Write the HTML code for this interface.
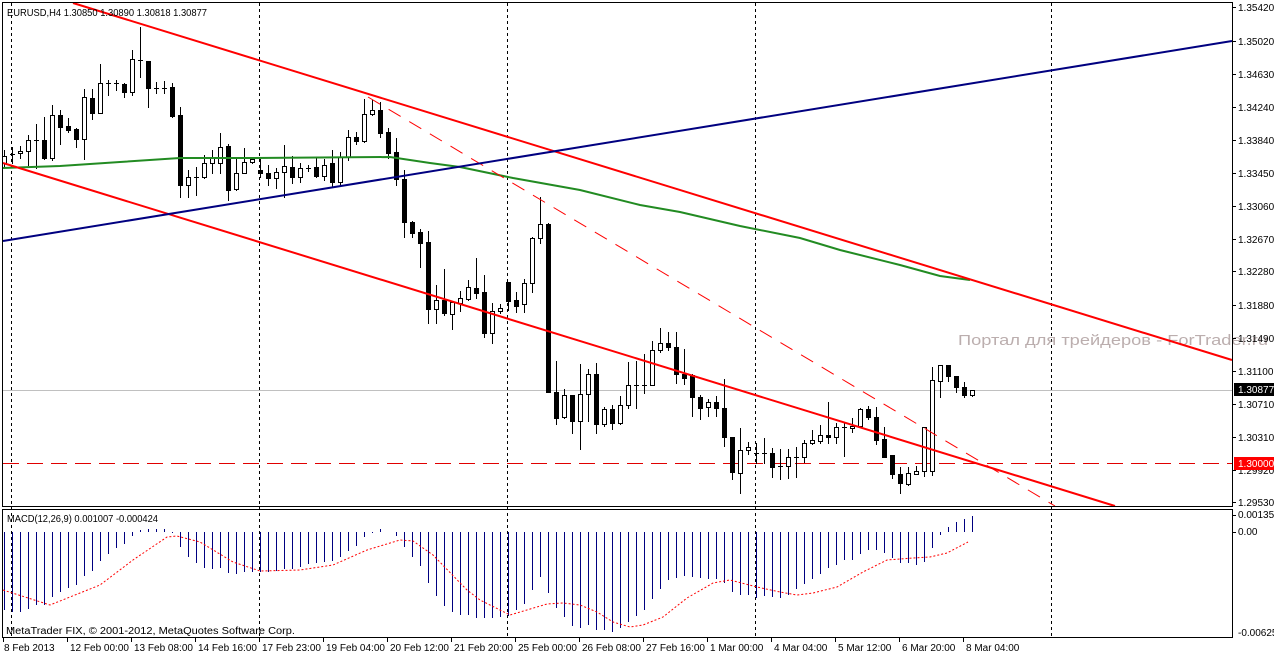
<!DOCTYPE html>
<html><head><meta charset="utf-8"><style>
html,body{margin:0;padding:0;background:#fff;width:1274px;height:655px;overflow:hidden}
svg{display:block;font-family:"Liberation Sans","DejaVu Sans",sans-serif}
</style></head><body>
<svg id="s" width="1274" height="655" xmlns="http://www.w3.org/2000/svg" shape-rendering="crispEdges">
<rect width="1274" height="655" fill="#fff"/>
<g id="grid" stroke="#000" stroke-dasharray="3,3" stroke-width="1">
<line x1="11.5" y1="3" x2="11.5" y2="637"/>
<line x1="259.5" y1="3" x2="259.5" y2="637"/>
<line x1="507.5" y1="3" x2="507.5" y2="637"/>
<line x1="755.5" y1="3" x2="755.5" y2="637"/>
<line x1="1051.5" y1="3" x2="1051.5" y2="637"/>
</g>
<text x="958" y="345" font-size="15" fill="#b0a0a0" opacity="0.85" textLength="310" lengthAdjust="spacingAndGlyphs">Портал для трейдеров - ForTrader.ru</text>
<line x1="3" y1="390.5" x2="1232" y2="390.5" stroke="#c0c0c0"/>
<line x1="3" y1="463.5" x2="1232" y2="463.5" stroke="#e00000" stroke-dasharray="16,8"/>
<g id="cd"></g>
<g shape-rendering="auto" fill="none">
<polyline stroke="#228b22" stroke-width="2" points="3,168 60,166 120,162 180,158 250,158 390,157 430,163 460,167 513,178 580,190 640,205 680,212 740,226 800,238 840,250 900,265 940,276 970,280"/>
<line x1="73" y1="3" x2="1232" y2="360" stroke="#f00" stroke-width="2"/>
<line x1="3" y1="163" x2="1115" y2="506" stroke="#f00" stroke-width="2"/>
<line x1="368" y1="97" x2="1055" y2="506" stroke="#f00" stroke-width="1" stroke-dasharray="14,10"/>
<line x1="3" y1="241" x2="1232" y2="41" stroke="#000080" stroke-width="2"/>
</g>
<g id="hist" stroke="#000080" stroke-width="1"></g>
<polyline shape-rendering="auto" fill="none" stroke="#f00" stroke-width="1" stroke-dasharray="2,2" points="3,590 50,605 100,585 133,560 167,537 177,536 200,542 233,562 260,571 300,570 333,565 367,550 400,540 413,541 433,555 467,590 480,600 510,615 547,604 563,603 580,605 597,612 613,622 630,627 643,625 663,617 687,598 713,583 730,580 757,587 780,592 797,595 813,593 837,587 863,572 887,560 913,558 930,557 947,553 968,542"/>
<g fill="none" stroke="#000">
<rect x="2.5" y="2.5" width="1230" height="504"/>
<rect x="2.5" y="509.5" width="1230" height="128"/>
</g>
<text x="7" y="16" font-size="10" fill="#000" textLength="200" lengthAdjust="spacingAndGlyphs">EURUSD,H4  1.30850 1.30890 1.30818 1.30877</text>
<text x="7" y="522" font-size="10" fill="#000" textLength="151" lengthAdjust="spacingAndGlyphs">MACD(12,26,9) 0.001007 -0.000424</text>
<text x="6" y="634" font-size="10" fill="#000" textLength="289" lengthAdjust="spacingAndGlyphs">MetaTrader FIX, © 2001-2012, MetaQuotes Software Corp.</text>
<g id="pax" font-size="10" fill="#000"></g>
<rect x="1234" y="383" width="40" height="13" fill="#000"/>
<text x="1238" y="393" font-size="10" fill="#fff">1.30877</text>
<rect x="1234" y="457" width="40" height="13" fill="#f00"/>
<text x="1238" y="467" font-size="10" fill="#fff">1.30000</text>
<g font-size="10" fill="#000">
<line x1="1232" y1="515.5" x2="1236" y2="515.5" stroke="#000"/>
<text x="1238" y="518">0.001353</text>
<line x1="1232" y1="532.5" x2="1236" y2="532.5" stroke="#000"/>
<text x="1238" y="535">0.00</text>
<text x="1238" y="636">-0.00625</text>
</g>
<g id="tax" font-size="10" fill="#000"></g>
</svg>
<script>
var NS="http://www.w3.org/2000/svg";
function el(p,t,a,txt){var e=document.createElementNS(NS,t);for(var k in a)e.setAttribute(k,a[k]);if(txt)e.textContent=txt;p.appendChild(e);return e;}
var C=[[163,156,150,166],[154,154,147,163],[153,151,146,158],[151,140,135,165],[140,140,124,168],[140,158,117,159],[158,115,105,160],[115,127,110,144],[126,130,118,132],[129,139,128,147],[139,97,89,159],[98,113,89,119],[113,83,64,113],[83,83,80,95],[83,83,80,90],[84,92,83,97],[92,59,50,95],[60,60,27,77],[61,88,61,107],[88,88,82,93],[88,88,81,93],[87,116,83,117],[115,185,107,197],[185,177,170,197],[177,177,167,195],[177,163,155,178],[163,158,150,173],[163,147,133,173],[146,190,144,200],[189,173,157,190],[173,162,148,173],[162,159,157,163],[170,173,159,177],[173,178,165,185],[178,172,168,188],[172,166,145,197],[167,177,156,183],[177,168,163,182],[168,168,165,171],[167,176,158,177],[176,165,159,180],[163,182,150,187],[182,157,152,185],[157,137,130,160],[137,141,132,144],[141,114,99,142],[114,110,100,115],[110,133,102,137],[132,153,128,158],[152,179,138,185],[179,222,170,237],[222,233,221,237],[232,243,229,267],[242,309,231,323],[309,300,285,323],[300,313,269,315],[314,302,302,329],[303,298,291,311],[299,287,280,300],[288,293,258,298],[292,333,275,337],[333,311,303,343],[311,308,304,313],[282,301,282,310],[300,306,292,312],[304,283,279,312],[283,238,237,292],[238,224,197,243],[224,392,223,392],[392,418,361,424],[417,395,389,418],[395,421,395,433],[421,394,364,449],[394,374,369,421],[374,424,363,433],[424,409,407,426],[409,423,405,429],[423,405,396,424],[405,385,362,408],[385,385,361,408],[385,385,354,393],[385,350,341,385],[350,343,328,352],[343,347,332,350],[347,374,332,383],[374,378,349,384],[375,397,374,416],[397,408,395,419],[407,402,399,416],[402,408,396,416],[408,437,379,446],[437,472,437,479],[473,450,428,493],[450,447,442,454],[453,453,443,463],[453,453,438,463],[453,467,448,477],[466,466,449,479],[466,457,449,478],[457,457,447,477],[457,443,440,462],[443,440,430,444],[441,435,425,443],[435,437,402,443],[437,427,423,443],[427,427,423,456],[428,426,418,432],[426,409,408,427],[409,417,406,419],[417,440,407,444],[439,457,427,457],[455,474,455,478],[474,483,467,493],[484,473,467,485],[474,471,466,474],[471,427,427,476],[471,380,367,475],[381,365,365,397],[365,376,365,381],[376,387,376,392],[387,395,382,397],[395,390,390,396]];
var g=document.getElementById("cd");
C.forEach(function(c,i){var x=4+8*i;var top=Math.min(c[0],c[1]),bot=Math.max(c[0],c[1]);
el(g,"line",{x1:x+.5,y1:c[2],x2:x+.5,y2:c[3]+1,stroke:"#000"});
if(bot-top<1){el(g,"line",{x1:x-2,y1:top+.5,x2:x+3,y2:top+.5,stroke:"#000"});}
else if(c[1]<c[0]){el(g,"rect",{x:x-1.5,y:top+.5,width:4,height:bot-top,fill:"#fff",stroke:"#000"});}
else{el(g,"rect",{x:x-2,y:top,width:5,height:bot-top+1,fill:"#000"});}
});
var H=[610,612,612,609,605,605,597,592,588,585,576,571,561,554,548,544,536,530,529,529,529,533,547,557,563,568,569,568,573,574,572,572,572,572,571,569,569,567,564,563,562,561,557,551,546,537,533,529,532,536,547,557,566,583,596,606,612,615,615,618,618,618,617,616,610,604,590,577,593,608,617,626,628,625,630,630,632,628,622,616,610,599,589,580,578,576,577,578,579,579,583,592,595,595,598,596,597,598,595,589,584,579,574,568,565,560,560,554,550,550,553,558,563,563,565,562,548,535,527,522,519,516];
var hg=document.getElementById("hist");
H.forEach(function(y,i){var x=4+8*i;el(hg,"line",{x1:x+.5,y1:532,x2:x+.5,y2:y});});
var P=[["1.35420",7],["1.35020",41],["1.34630",74],["1.34240",107],["1.33840",140],["1.33450",173],["1.33060",206],["1.32670",239],["1.32280",271],["1.31880",305],["1.31490",338],["1.31100",371],["1.30710",404],["1.30310",437],["1.29920",470],["1.29530",502]];
var pg=document.getElementById("pax");
P.forEach(function(p){el(pg,"line",{x1:1232,y1:p[1]+.5,x2:1236,y2:p[1]+.5,stroke:"#000"});el(pg,"text",{x:1238,y:p[1]+4},p[0]);});
var T=["8 Feb 2013","12 Feb 00:00","13 Feb 08:00","14 Feb 16:00","17 Feb 23:00","19 Feb 04:00","20 Feb 12:00","21 Feb 20:00","25 Feb 00:00","26 Feb 08:00","27 Feb 16:00","1 Mar 00:00","4 Mar 04:00","5 Mar 12:00","6 Mar 20:00","8 Mar 04:00"];
var tg=document.getElementById("tax");
T.forEach(function(t,i){var x=3+64*i;el(tg,"line",{x1:x+.5,y1:637,x2:x+.5,y2:642,stroke:"#000"});el(tg,"text",{x:x+1+(i==0?0:2),y:651},t);});
</script>
</body></html>
